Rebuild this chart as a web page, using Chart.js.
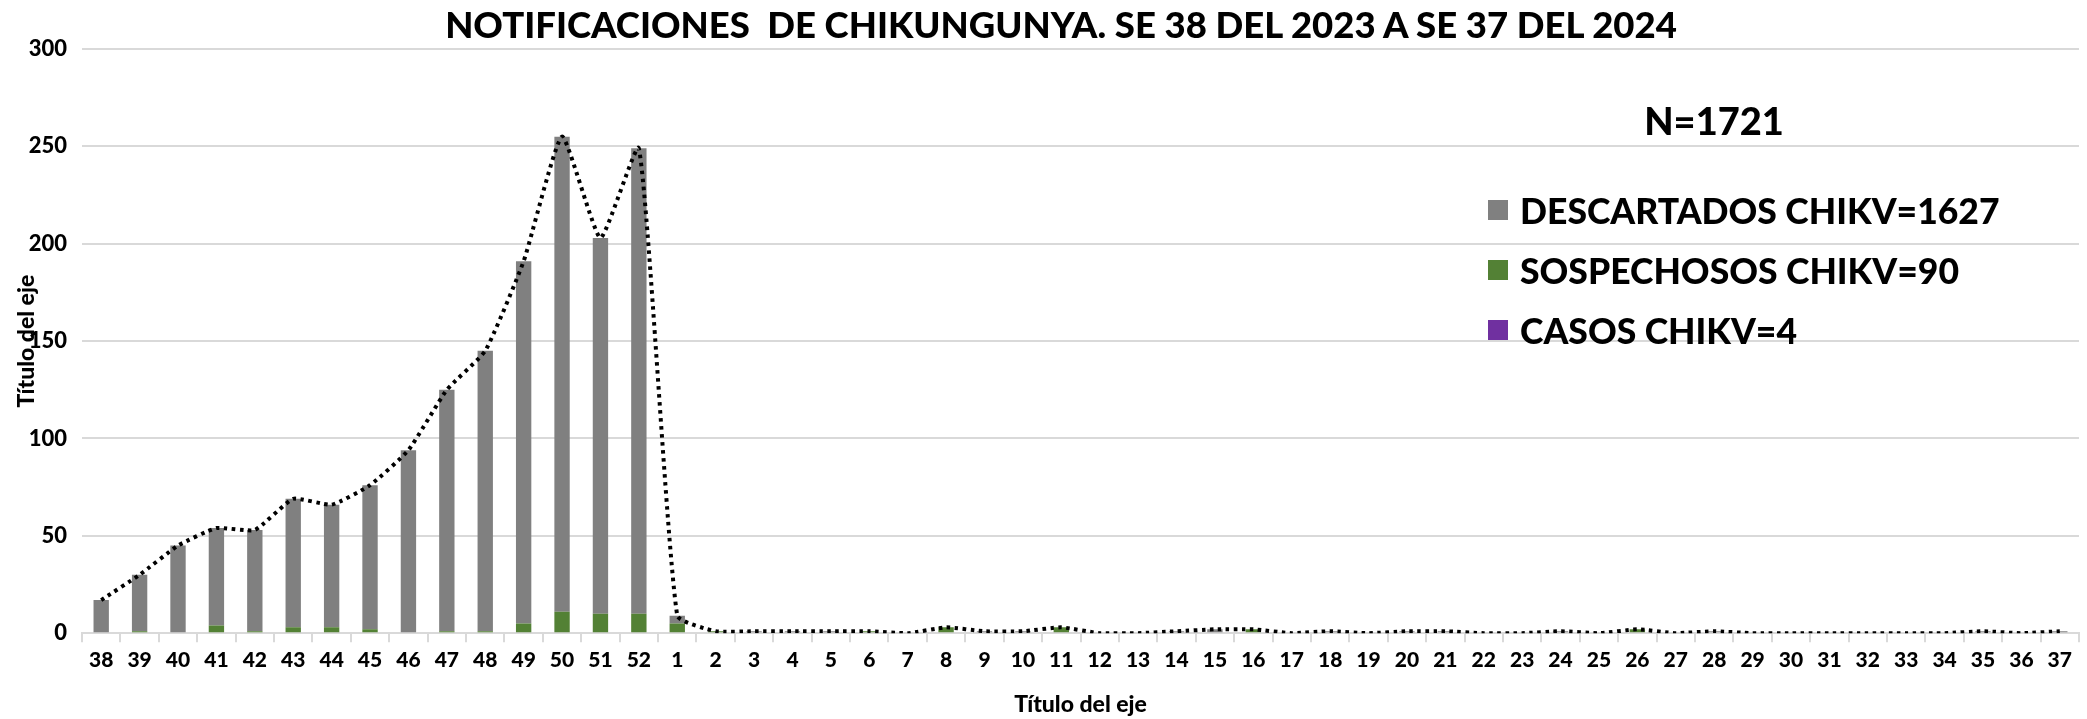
<!DOCTYPE html>
<html lang="es">
<head>
<meta charset="utf-8">
<title>Notificaciones de Chikungunya</title>
<script src="https://cdn.jsdelivr.net/npm/chart.js@4.4.1/dist/chart.umd.min.js"></script>
<style>
  html, body { margin: 0; padding: 0; background: #fff; }
  #wrap { position: relative; width: 2087px; height: 719px; }
  #titulo {
    position: absolute; left: 1061px; top: 24px; transform: translate(-50%, -50%);
    font: 900 36.5px Lato, sans-serif; color: #000; white-space: pre;
  }
  #total-n {
    position: absolute; left: 1714px; top: 120px; transform: translate(-50%, -50%);
    font: 900 38px Lato, sans-serif; color: #000; white-space: nowrap;
  }
  #leyenda { position: absolute; left: 1488px; top: 180px; font: 900 35.5px Lato, sans-serif; color: #000; }
  #leyenda .fila { display: flex; align-items: center; height: 60px; white-space: nowrap; }
  #leyenda .caja { width: 20px; height: 20px; margin-right: 12px; }
</style>
</head>
<body>
<div id="wrap">
  <canvas id="chart-chik" width="2087" height="719"></canvas>
  <div id="titulo">NOTIFICACIONES  DE CHIKUNGUNYA. SE 38 DEL 2023 A SE 37 DEL 2024</div>
  <div id="total-n">N=1721</div>
  <div id="leyenda"></div>
</div>
<script>
// Semanas epidemiológicas SE 38/2023 a SE 37/2024
const semanas = [
  '38', '39', '40', '41', '42', '43', '44', '45', '46', '47', '48', '49', '50', '51', '52',
  '1', '2', '3', '4', '5', '6', '7', '8', '9', '10', '11', '12', '13', '14', '15', '16', '17', '18', '19',
  '20', '21', '22', '23', '24', '25', '26', '27', '28', '29', '30', '31', '32', '33', '34', '35', '36', '37'
];

// Valores (aprox.)
const descartados = [
  17, 29, 45, 50, 52, 66, 63, 74, 94, 124, 144, 186, 244, 193, 239,
  4, 0, 1, 1, 1, 0, 0, 0, 1, 1, 0, 0, 0, 1, 2, 0, 0, 1, 0,
  1, 1, 0, 0, 1, 0, 0, 0, 1, 0, 0, 0, 0, 0, 0, 1, 0, 1
];
const sospechosos = [
  0, 1, 0, 4, 1, 3, 3, 2, 0, 1, 1, 5, 11, 10, 10,
  5, 1, 0, 0, 0, 1, 0, 3, 0, 0, 3, 0, 0, 0, 0, 2, 0, 0, 0,
  0, 0, 0, 0, 0, 0, 2, 0, 0, 0, 0, 0, 0, 0, 0, 0, 0, 0
];
const casos = [
  0, 0, 0, 0, 0, 0, 0, 0, 0, 0, 0, 0, 0, 0, 0,
  0, 0, 0, 0, 0, 0, 0, 0, 0, 0, 0, 0, 0, 0, 0, 0, 0, 0, 0,
  0, 0, 0, 0, 0, 0, 0, 0, 0, 0, 0, 0, 0, 0, 0, 0, 0, 0
];
// Total de notificaciones por semana (línea punteada)
const totales = [
  17, 30, 45, 54, 53, 69, 66, 76, 94, 125, 145, 191, 255, 203, 249,
  9, 1, 1, 1, 1, 1, 0, 3, 1, 1, 3, 0, 0, 1, 2, 2, 0, 1, 0,
  1, 1, 0, 0, 1, 0, 2, 0, 1, 0, 0, 0, 0, 0, 0, 1, 0, 1
];

const yTicks = [0, 50, 100, 150, 200, 250, 300];

const FONT = 'Lato, sans-serif';
const GRID = '#d9d9d9';

// Título del eje Y, superpuesto como en el original
const tituloEjeY = {
  id: 'tituloEjeY',
  afterDraw(chart) {
    const { ctx, chartArea } = chart;
    ctx.save();
    ctx.translate(27, (chartArea.top + chartArea.bottom) / 2);
    ctx.rotate(-Math.PI / 2);
    ctx.font = '900 23px ' + FONT;
    ctx.fillStyle = '#000';
    ctx.textAlign = 'center';
    ctx.textBaseline = 'middle';
    ctx.fillText('Título del eje', 0, 0);
    ctx.restore();
  }
};

const ctx = document.getElementById('chart-chik');

const chart = new Chart(ctx, {
  type: 'bar',
  data: {
    labels: semanas,
    datasets: [
      {
        label: 'CASOS CHIKV=4',
        data: casos,
        backgroundColor: '#7030a0',
        stack: 'notif',
        order: 1
      },
      {
        label: 'SOSPECHOSOS CHIKV=90',
        data: sospechosos,
        backgroundColor: '#538135',
        stack: 'notif',
        order: 1
      },
      {
        label: 'DESCARTADOS CHIKV=1627',
        data: descartados,
        backgroundColor: '#808080',
        stack: 'notif',
        order: 1
      },
      {
        type: 'line',
        label: 'Total',
        data: totales,
        borderColor: '#000',
        borderWidth: 4,
        borderDash: [3.5, 4.5],
        tension: 0.15,
        pointRadius: 0,
        fill: false,
        stack: 'linea',
        order: 0
      }
    ]
  },
  options: {
    responsive: false,
    animation: false,
    layout: { padding: { top: 49, right: 8, bottom: 0, left: 0 } },
    datasets: {
      bar: { categoryPercentage: 1, barPercentage: 0.4, borderWidth: 0 }
    },
    plugins: {
      legend: { display: false },
      tooltip: { enabled: false },
      title: { display: false }
    },
    scales: {
      x: {
        stacked: true,
        grid: {
          drawOnChartArea: false,
          color: GRID,
          lineWidth: 2,
          tickLength: 9
        },
        border: { color: GRID, width: 2 },
        ticks: {
          color: '#000',
          padding: 5,
          maxRotation: 0,
          autoSkip: false,
          font: { family: FONT, size: 21, weight: '900' }
        },
        title: {
          display: true,
          text: 'Título del eje',
          color: '#000',
          font: { family: FONT, size: 23, weight: '900' },
          padding: { top: 13, bottom: 1 }
        }
      },
      y: {
        stacked: true,
        min: 0,
        max: 300,
        afterFit(scale) { scale.width = 82; },
        afterBuildTicks(scale) { scale.ticks = yTicks.map(v => ({ value: v })); },
        grid: { color: GRID, lineWidth: 2, drawTicks: false },
        border: { display: false },
        ticks: {
          color: '#000',
          padding: 15,
          font: { family: FONT, size: 22, weight: '900' }
        }
      }
    }
  },
  plugins: [tituloEjeY]
});

// Leyenda HTML (orden invertido, como en Excel)
const leyenda = document.getElementById('leyenda');
chart.data.datasets
  .filter(ds => ds.type !== 'line')
  .slice()
  .reverse()
  .forEach(ds => {
    const fila = document.createElement('div');
    fila.className = 'fila';
    const caja = document.createElement('span');
    caja.className = 'caja';
    caja.style.background = ds.backgroundColor;
    const txt = document.createElement('span');
    txt.textContent = ds.label;
    fila.appendChild(caja);
    fila.appendChild(txt);
    leyenda.appendChild(fila);
  });
</script>
</body>
</html>
